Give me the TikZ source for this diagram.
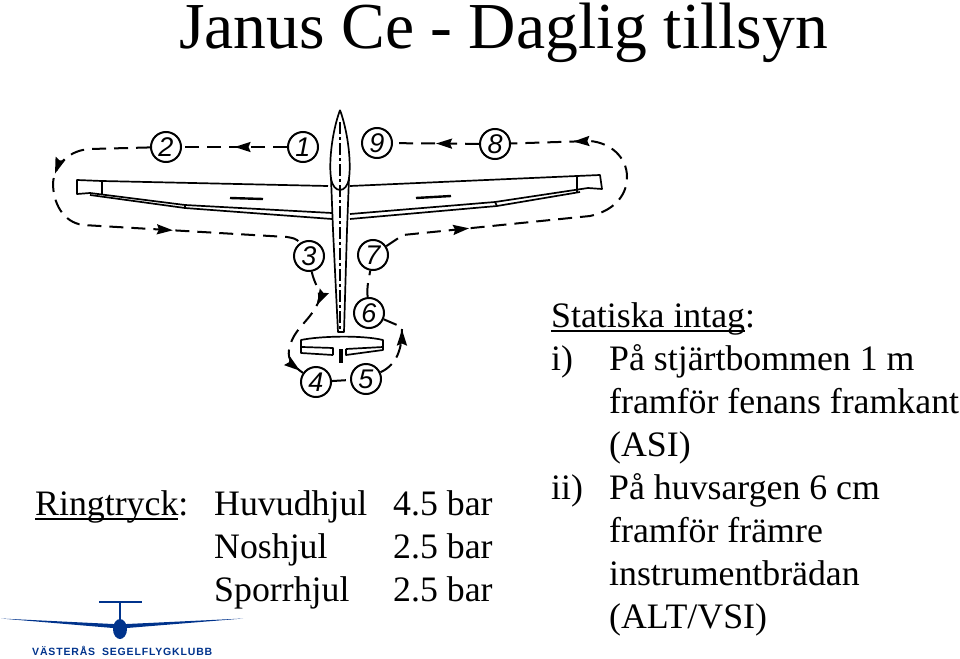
\documentclass[tikz,border=0pt]{standalone}
\usepackage{fontspec}
\setmainfont{Liberation Serif}
\newfontfamily\handfont{Liberation Sans}
\usetikzlibrary{arrows.meta,decorations.markings}
\definecolor{Klubb}{rgb}{0.0,0.2,0.55}
\newcommand{\ulword}[1]{\setbox0\hbox{#1}\rlap{\rule[-5pt]{\wd0}{2pt}}\box0}
\tikzset{
stop/.style={draw,circle,line width=2,minimum size=30,inner sep=0,font=\handfont\itshape\fontsize{27}{27}\selectfont},
route/.style={line width=2,dash pattern=on 14 off 8},
routetip/.style={postaction={decorate,decoration={markings,mark=at position #1 with {\arrow{Stealth[length=16,width=10,inset=2]}}}}},
plane/.style={line width=1.7,line join=round},
txt/.style={anchor=base west,inner sep=0,font=\fontsize{35.8}{36}\selectfont}
}
\begin{document}
\begin{tikzpicture}[x=1pt,y=-1pt]
\useasboundingbox (0,0) rectangle (960,658);
%%Title
\node[anchor=base west,inner sep=0,font=\fontsize{65.6}{66}\selectfont] (title) at (179,49) {Janus Ce - Daglig tillsyn};

%%Glider
\begin{scope}[plane]
%fuselage
\draw (340,110) .. controls (331,135) and (329,165) .. (331,178) .. controls (333,194) and (347,194) .. (349,178) .. controls (351,165) and (349,135) .. (340,110);
\draw (331,178) -- (333,230) -- (338,332) -- (344,332) -- (347,230) -- (349,178);
\draw[dash pattern=on 12 off 3 on 3 off 3] (340,122) -- (340,330);
%left wing
\draw (328,186) -- (102,181) -- (77,180) -- (77,194) -- (90,193) -- (185,205) -- (332,213);
\draw (90,195) -- (185,208) -- (332,219);
\draw (102,181) -- (102,195);
\draw (185,205) -- (185,208);
\draw[line width=2.4] (230,198) -- (263,199);
%right wing
\draw (350,186) -- (577,176) -- (600,175) -- (602,189) -- (588,188) -- (495,202) -- (350,214);
\draw (580,192) -- (497,206) -- (350,219);
\draw (577,176) -- (577,192);
\draw (495,202) -- (497,206);
\draw[line width=2.4] (416,198) -- (451,196);
%tail
\draw (333,355) -- (301,353) -- (301,340) .. controls (320,336) and (362,335) .. (383,340) -- (383,350) -- (346,355) -- (346,349);
\draw (302,347) -- (333,348) -- (333,355);
\draw (346,349) -- (383,347);
\draw[line width=3.5] (341,349) -- (341,363);
\end{scope}

%%Stops
\foreach \n/\px/\py in {1/303/147,2/166/147,3/309/256,4/316/382,5/366/379,6/369/313,7/373/255,8/495/144,9/377/143}
{\node[stop] (s\n) at (\px,\py) {\n};
}
\coordinate (wla) at (90,149);
\coordinate (wlb) at (53,183);
\coordinate (wlc) at (83,225);
\coordinate (wld) at (287,237);
\coordinate (wra) at (403,235);
\coordinate (wrb) at (590,216);
\coordinate (wrc) at (627,177);
\coordinate (wrd) at (590,141);
\coordinate (tla) at (318,303);
\coordinate (tlb) at (289,350);
\coordinate (tra) at (402,329);
\coordinate (trb) at (397,325);

%%Route
\draw[route,routetip=0.5] (s1) -- (s2);
\draw[route,routetip=0.27,routetip=0.67] (s2) -- (wla) to[out=183,in=85] (wlb) to[out=-90,in=172] (wlc) -- (wld) to[out=-10,in=125] (s3);
\draw[route,routetip=0.3,routetip=0.97] (s3) to[out=-80,in=70] (tla) to[out=-115,in=80] (tlb) to[out=-100,in=145] (s4);
\draw[route] (s4) -- (s5);
\draw[route,routetip=0.99] (s5) to[out=25,in=-90] (tra);
\draw[route] (s6) -- (trb);
\draw[route] (s6) to[out=95,in=-100] (s7);
\draw[route,routetip=0.215,routetip=0.845] (s7) -- (wra) -- (wrb) to[out=12,in=-90] (wrc) to[out=90,in=-5] (wrd) -- (s8);
\draw[route,routetip=0.5] (s8) -- (s9);

%%Ringtryck
\node[txt] (ring) at (35,515) {\ulword{Ringtryck}:};
\foreach \i/\y/\a/\b in {1/515/Huvudhjul/4.5 bar,2/558/Noshjul/2.5 bar,3/601/Sporrhjul/2.5 bar}
{\node[txt] (hjul\i) at (214,\y) {\a};
\node[txt] (bar\i) at (393,\y) {\b};
}

%%Statiska intag
\node[txt] (intag) at (551,327) {\ulword{Statiska intag}:};
\node[txt] (ett) at (551,370) {i)};
\node[txt] (tva) at (551,499) {ii)};
\foreach \i/\y/\t in {1/370/På stjärtbommen 1 m,2/413/framför fenans framkant,3/456/(ASI),4/499/På huvsargen 6 cm,5/542/framför främre,6/585/instrumentbrädan,7/628/{(ALT/VSI)}}
{\node[txt] (rad\i) at (609,\y) {\t};
}

%%Logo
\begin{scope}[Klubb]
\fill (1,618.5) -- (113,624) -- (127,624) -- (243,618.5) -- (127,628) -- (113,628) -- cycle;
\fill (120,629) ellipse [x radius=7,y radius=10];
\draw[line width=1.6] (120,603) -- (120,622);
\draw[line width=1.2] (99,602) -- (142,602);
\node[anchor=base west,inner sep=0,font=\handfont\bfseries\fontsize{10.5}{12}\selectfont\addfontfeature{LetterSpace=8}] (klubb) at (32,655) {VÄSTERÅS\hspace{3pt} SEGELFLYGKLUBB};
\end{scope}
\end{tikzpicture}
\end{document}
